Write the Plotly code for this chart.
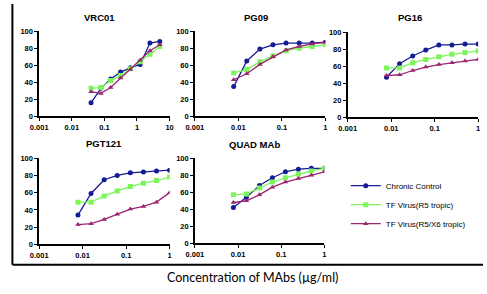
import plotly.graph_objects as go

# ---------------- data ----------------
series_names = ["Chronic Control", "TF Virus(R5 tropic)", "TF Virus(R5/X6 tropic)"]
panel_titles = ["VRC01", "PG09", "PG16", "PGT121", "QUAD MAb"]

conc_vrc01 = [0.039, 0.078, 0.156, 0.3125, 0.625, 1.25, 2.5, 5]
conc_other = [0.0078, 0.0156, 0.03125, 0.0625, 0.125, 0.25, 0.5, 1]

vrc01_chronic = [16, 33, 44, 52, 57, 61, 86, 88]
vrc01_r5 = [33, 34, 42, 48, 56, 64, 73, 82]
vrc01_r5x4 = [29, 27, 34, 45, 55, 66, 77, 84]

pg09_chronic = [35, 65, 79, 84, 86, 86, 86, 87]
pg09_r5 = [51, 55, 64, 71, 77, 80, 82, 84]
pg09_r5x4 = [43, 50, 61, 70, 78, 82, 85, 87]

pg16_chronic = [47, 63, 72, 79, 85, 85, 86, 86]
pg16_r5 = [58, 58, 64, 68, 71, 74, 76, 78]
pg16_r5x4 = [49, 50, 55, 59, 62, 64, 66, 68]

pgt121_chronic = [34, 59, 75, 80, 83, 84, 85, 86]
pgt121_r5 = [49, 49, 56, 62, 67, 71, 74, 78]
pgt121_r5x4 = [23, 24, 29, 35, 41, 44, 49, 60]

quad_chronic = [42, 54, 68, 77, 84, 87, 88, 88]
quad_r5 = [57, 58, 65, 72, 77, 81, 85, 88]
quad_r5x4 = [48, 50, 57, 66, 72, 76, 80, 84]

x_ticks_vrc01 = [0.001, 0.01, 0.1, 1, 10]
x_ticklabels_vrc01 = ["0.001", "0.01", "0.1", "1", "10"]
x_ticks_other = [0.001, 0.01, 0.1, 1]
x_ticklabels_other = ["0.001", "0.01", "0.1", "1"]
y_ticks = [0, 20, 40, 60, 80, 100]
x_title = "Concentration of MAbs (µg/ml)"

# ---------------- style ----------------
W, H = 487, 294
colors = ["#141C94", "#7CF55A", "#9C2470"]
symbols = ["circle", "square", "triangle-up"]

panels = [
    (conc_vrc01, [vrc01_chronic, vrc01_r5, vrc01_r5x4], (31, 165, 28, 116), [-3, 1], x_ticks_vrc01, x_ticklabels_vrc01),
    (conc_other, [pg09_chronic, pg09_r5, pg09_r5x4], (191, 325, 28, 116), [-3, 0], x_ticks_other, x_ticklabels_other),
    (conc_other, [pg16_chronic, pg16_r5, pg16_r5x4], (348, 482, 29, 117), [-3, 0], x_ticks_other, x_ticklabels_other),
    (conc_other, [pgt121_chronic, pgt121_r5, pgt121_r5x4], (31, 165, 159, 248), [-3, 0], x_ticks_other, x_ticklabels_other),
    (conc_other, [quad_chronic, quad_r5, quad_r5x4], (191, 324, 159, 247), [-3, 0], x_ticks_other, x_ticklabels_other),
]
title_pos = [(93, 14), (254, 14), (412, 14), (98, 144), (252, 145)]

fig = go.Figure()
layout = dict(
    width=W, height=H, margin=dict(l=0, r=0, t=0, b=0),
    paper_bgcolor="white", plot_bgcolor="white",
    font=dict(family="Arial, Liberation Sans", color="black"),
)
tickfont = dict(family="Arial, Liberation Sans", size=7.5, color="black", weight="bold")
annotations = []

for i, (xs, ys_list, (x0, x1, y0, y1), xr, tv, tt) in enumerate(panels):
    n = "" if i == 0 else str(i + 1)
    for j, ys in enumerate(ys_list):
        fig.add_trace(go.Scatter(
            x=xs, y=ys, mode="lines+markers", name=series_names[j],
            xaxis="x" + n, yaxis="y" + n,
            line=dict(color=colors[j], width=1.3),
            marker=dict(color=colors[j], symbol=symbols[j], size=5),
            showlegend=(i == 0), legendrank=j,
        ))
    layout["xaxis" + n] = dict(
        type="log", range=xr, domain=[x0 / W, x1 / W], anchor="y" + n,
        tickmode="array", tickvals=tv, ticktext=tt, tickfont=tickfont,
        showline=True, linecolor="black", linewidth=1.5,
        ticks="outside", ticklen=3, tickwidth=1.2, tickcolor="black",
        showgrid=False, zeroline=False,
    )
    layout["yaxis" + n] = dict(
        range=[0, 100], domain=[1 - y1 / H, 1 - y0 / H], anchor="x" + n,
        tickmode="array", tickvals=y_ticks, tickfont=tickfont,
        showline=True, linecolor="black", linewidth=1.5,
        ticks="outside", ticklen=3, tickwidth=1.2, tickcolor="black",
        showgrid=False, zeroline=False,
    )
    tx, ty = title_pos[i]
    annotations.append(dict(
        text=panel_titles[i], x=tx / W, y=1 - ty / H, xref="paper", yref="paper",
        showarrow=False, xanchor="center", yanchor="middle",
        font=dict(family="Arial, Liberation Sans", size=9.5, color="black", weight="bold"),
    ))

annotations.append(dict(
    text=x_title, x=250 / W, y=1 - 282 / H, xref="paper", yref="paper",
    showarrow=False, xanchor="center", yanchor="middle",
    font=dict(family="Lato, Open Sans", size=12.5, color="black"),
))

layout["annotations"] = annotations
layout["shapes"] = [
    dict(type="line", xref="paper", yref="paper", x0=3.5 / W, x1=3.5 / W, y0=1, y1=1 - 269 / H,
         line=dict(color="black", width=2)),
    dict(type="line", xref="paper", yref="paper", x0=3.5 / W, x1=1, y0=1 - 269 / H, y1=1 - 269 / H,
         line=dict(color="black", width=2)),
]
layout["legend"] = dict(
    x=346 / W, y=1 - 207 / H, xanchor="left", yanchor="middle",
    font=dict(family="Arial, Liberation Sans", size=8, color="black"),
    bgcolor="rgba(0,0,0,0)", tracegroupgap=0, itemwidth=30,
)
fig.update_layout(**layout)
fig.write_html("out.html")
